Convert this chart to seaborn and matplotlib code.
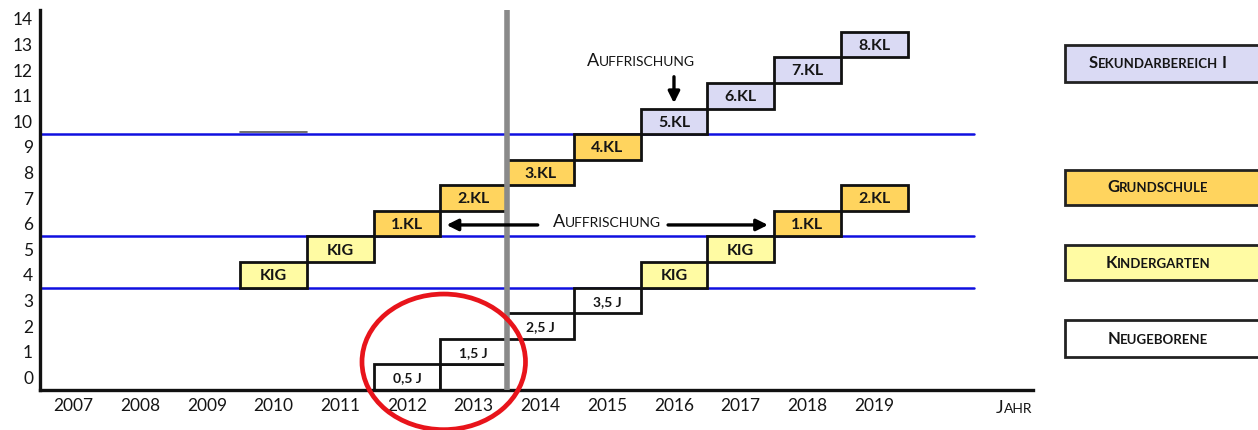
import matplotlib
matplotlib.use('Agg')
import matplotlib.pyplot as plt
from matplotlib.patches import Ellipse, Rectangle
from matplotlib.offsetbox import TextArea, HPacker, AnnotationBbox
import pandas as pd
import seaborn as sns

# cohort born ~2006: Kindergarten 2010 -> 8. Klasse 2019
years_a = [2010, 2011, 2012, 2013, 2014, 2015, 2016, 2017, 2018, 2019]
levels_a = [4, 5, 6, 7, 8, 9, 10, 11, 12, 13]
labels_a = ['KIG', 'KIG', '1.KL', '2.KL', '3.KL', '4.KL', '5.KL', '6.KL', '7.KL', '8.KL']
stages_a = ['K', 'K', 'G', 'G', 'G', 'G', 'S', 'S', 'S', 'S']

# cohort born 2012: Neugeborene -> 2. Klasse 2019
years_b = [2012, 2013, 2013, 2014, 2015, 2016, 2017, 2018, 2019]
levels_b = [0, 0, 1, 2, 3, 4, 5, 6, 7]
labels_b = ['0,5 J', '', '1,5 J', '2,5 J', '3,5 J', 'KIG', 'KIG', '1.KL', '2.KL']
stages_b = ['N', 'N', 'N', 'N', 'N', 'K', 'K', 'G', 'G']

year_ticks = list(range(2007, 2020))
level_ticks = list(range(0, 15))
stage_bounds = [3.5, 5.5, 9.5]

legend_names = ['Sekundarbereich I', 'Grundschule', 'Kindergarten', 'Neugeborene']
legend_stages = ['S', 'G', 'K', 'N']

stage_colors = {'S': '#DADAF4', 'G': '#FFD45E', 'K': '#FFFBA3', 'N': '#FFFFFF'}

boxes = pd.DataFrame({
    'year': years_a + years_b,
    'level': levels_a + levels_b,
    'label': labels_a + labels_b,
    'stage': stages_a + stages_b,
})

sns.set_theme(style='white')
plt.rcParams['font.family'] = ['Lato', 'DejaVu Sans']


def smallcaps(text, big, small, weight='normal'):
    runs = []
    for ch in text:
        is_big = not ch.islower()
        if runs and runs[-1][0] == is_big:
            runs[-1][1] += ch.upper()
        else:
            runs.append([is_big, ch.upper()])
    parts = [TextArea(s, textprops=dict(fontsize=big if b else small,
                                         fontweight=weight, color='#151515'))
             for b, s in runs]
    return HPacker(children=parts, align='baseline', pad=0, sep=0)


fig = plt.figure(figsize=(12.58, 4.30), dpi=100)
ax = fig.add_axes([40 / 1258, 40 / 430, (1033 - 40) / 1258, (420 - 40) / 430])

# stage boundaries
for b in stage_bounds:
    ax.plot([2006.5, 2020.5], [b, b], color='#1010E0', lw=1.8, zorder=1)

# a stray line left over in the source at 2010
ax.plot([2009.5, 2010.5], [9.6, 9.6], color='#555555', lw=1.2, zorder=1)

ax.bar(boxes['year'], height=1, bottom=boxes['level'] - 0.5, width=1,
       color=[stage_colors[s] for s in boxes['stage']],
       edgecolor='#111111', linewidth=2.0, zorder=2)

for _, r in boxes.iterrows():
    if r['label'].endswith('J'):
        ax.text(r['year'], r['level'] - 0.05, r['label'], ha='center', va='center',
                fontsize=10, fontweight='bold', color='#151515', zorder=3)
    else:
        ax.text(r['year'], r['level'] - 0.05, r['label'], ha='center', va='center',
                fontsize=11.5, fontweight='bold', color='#151515', zorder=3)

# 2013/2014 divider
ax.axvline(2013.5, color='#8a8a8a', lw=4, zorder=4)

# Auffrischung annotations
arrow = dict(arrowstyle='-|>', color='black', lw=2.4, mutation_scale=17)
ax.annotate('', xy=(2016, 10.6), xytext=(2016, 11.85), arrowprops=arrow, zorder=5)
ax.add_artist(AnnotationBbox(smallcaps('Auffrischung', 13, 10), (2015.5, 12.35),
                             frameon=False, box_alignment=(0.5, 0.5), zorder=5))
ax.annotate('', xy=(2012.55, 5.95), xytext=(2014.0, 5.95), arrowprops=arrow, zorder=5)
ax.annotate('', xy=(2017.45, 5.95), xytext=(2015.87, 5.95), arrowprops=arrow, zorder=5)
ax.add_artist(AnnotationBbox(smallcaps('Auffrischung', 13, 10), (2015.0, 6.05),
                             frameon=False, box_alignment=(0.5, 0.5), zorder=5))

# red highlight circle
ax.add_patch(Ellipse((2012.55, 0.6), 2.45, 5.3, fill=False, edgecolor='#E8141B',
                     lw=3.4, clip_on=False, zorder=6))

ax.set_xlim(2006.5, 2021.38)
ax.set_ylim(-0.5, 14.35)
ax.set_xticks(year_ticks)
ax.set_xticklabels([str(y) for y in year_ticks])
ax.set_yticks(level_ticks)
ax.set_yticklabels([str(v) for v in level_ticks])
ax.tick_params(axis='both', length=0, labelsize=12.5, colors='#151515')
ax.tick_params(axis='x', pad=6)
ax.tick_params(axis='y', pad=5)
ax.grid(False)
sns.despine(ax=ax)
for side in ['left', 'bottom']:
    ax.spines[side].set_color('#111111')
    ax.spines[side].set_linewidth(2.4)

fig.add_artist(AnnotationBbox(smallcaps('Jahr', 13, 10), (1014 / 1258, 22 / 430),
                              xycoords='figure fraction', frameon=False,
                              box_alignment=(0.5, 0.5)))

# legend boxes on the right
legend_rows = [(45, 82), (170, 205), (245, 280), (320, 357)]
for name, st, (top, bot) in zip(legend_names, legend_stages, legend_rows):
    fig.add_artist(Rectangle((1065 / 1258, 1 - bot / 430), 0.2, (bot - top) / 430,
                             transform=fig.transFigure, facecolor=stage_colors[st],
                             edgecolor='#222222', lw=2.0))
    fig.add_artist(AnnotationBbox(smallcaps(name, 12, 9.5, 'bold'),
                                  (1158 / 1258, 1 - (top + bot) / 2 / 430),
                                  xycoords='figure fraction', frameon=False,
                                  box_alignment=(0.5, 0.5)))

fig.savefig('out.png', dpi=100)
